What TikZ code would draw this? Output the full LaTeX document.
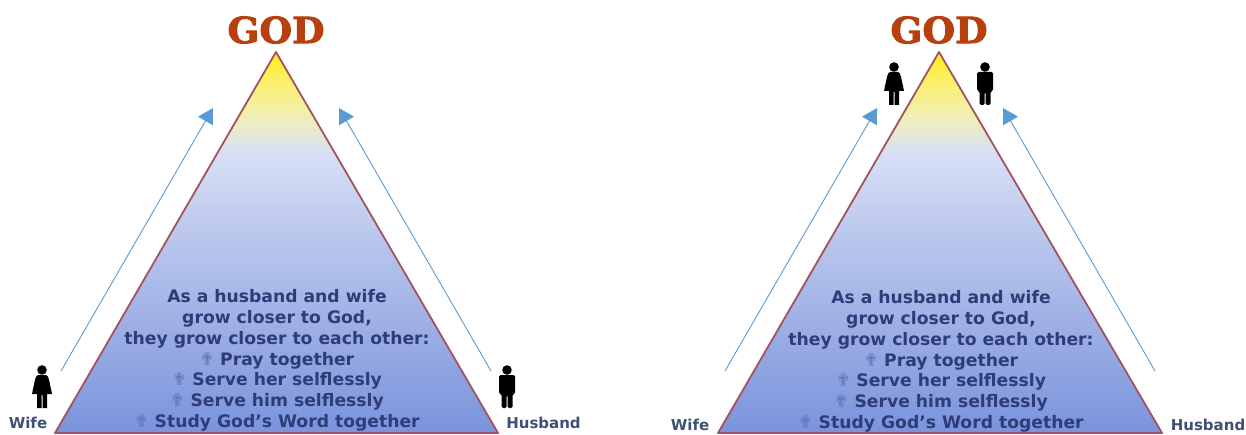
\documentclass[tikz,border=0pt]{standalone}
\usepackage{fontspec}
\setmainfont{DejaVu Sans}
\newfontfamily\godfont[FakeBold=2.5,FakeStretch=1.04]{DejaVu Serif}
\usetikzlibrary{arrows.meta}
\definecolor{rimcol}{HTML}{A3525F}
\definecolor{inkcol}{HTML}{2E3C78}
\definecolor{namecol}{HTML}{3F4F75}
\definecolor{crosscol}{HTML}{6478B8}
\definecolor{arrowcol}{HTML}{5B9BD5}
\definecolor{godcol}{HTML}{B8400F}
\definecolor{shadeA}{HTML}{7A93DC}
\definecolor{shadeB}{HTML}{B8C5EC}
\definecolor{shadeC}{HTML}{D8E0F5}
\definecolor{shadeD}{HTML}{EEEEBE}
\definecolor{shadeE}{HTML}{FAF06E}
\definecolor{shadeF}{HTML}{FFEE14}
\pgfdeclareverticalshading{pyramidfill}{100bp}{
  color(0bp)=(shadeA);
  color(25bp)=(shadeA);
  color(50bp)=(shadeB);
  color(62bp)=(shadeC);
  color(66bp)=(shadeD);
  color(71bp)=(shadeE);
  color(75bp)=(shadeF);
  color(100bp)=(shadeF)}
\tikzset{
  >=Triangle,
  pyramid/.style={shade,shading=pyramidfill,draw=rimcol,line width=1.8pt,line join=round},
  rise/.style={draw=arrowcol,line width=.9pt,-{Triangle[length=15pt,width=17pt]}},
  god/.style={font=\godfont\bfseries\fontsize{36}{36}\selectfont,text=godcol,inner sep=0pt},
  spouse/.style={font=\bfseries\fontsize{15}{15}\selectfont,text=namecol,inner sep=0pt},
  verse/.style={font=\bfseries\fontsize{17.2}{20.8}\selectfont,text=inkcol,align=center,inner sep=0pt},
  wife/.pic={
    \fill (0,-17) circle (4.8);
    \fill (-4,-12) -- (4,-12) .. controls (7,-11) and (7,-6) .. (9,2) -- (10,7) -- (5,7) -- (5,21) -- (.5,21) -- (.5,8) -- (-.5,8) -- (-.5,21) -- (-5,21) -- (-5,7) -- (-10,7) -- (-9,2) .. controls (-7,-6) and (-7,-11) .. (-4,-12) -- cycle;
  },
  husband/.pic={
    \fill (0,-17) circle (4.8);
    \fill[rounded corners=1.5pt] (-8,-12) -- (8,-12) -- (8,7) -- (5.5,7) -- (5.5,21) -- (.5,21) -- (.5,8) -- (-.5,8) -- (-.5,21) -- (-5.5,21) -- (-5.5,7) -- (-8,7) -- cycle;
  },
}
\newcommand{\bondtext}{As a husband and wife\\grow closer to God,\\they grow closer to each other:\\{\color{crosscol}✟} Pray together\\{\color{crosscol}✟} Serve her selflessly\\{\color{crosscol}✟} Serve him selflessly\\{\color{crosscol}✟} Study God's Word together}

\begin{document}
\begin{tikzpicture}[x=1pt,y=-1pt]
  \useasboundingbox (0,0) rectangle (1246,435);
  % left pyramid
  \coordinate (topL) at (276,52);
  \coordinate (wifeL) at (55,433);
  \coordinate (husbL) at (498,433);
  \path[pyramid] (topL) -- (husbL) -- (wifeL) -- cycle;
  \node[god] (godL) at (276,30) {GOD};
  \node[verse] (bondL) at (277,360.5) {\bondtext};
  \pic at (42,387) {wife};
  \pic at (507,387) {husband};
  \node[spouse] (nameWL) at (28,423) {Wife};
  \node[spouse] (nameHL) at (543.5,423) {Husband};
  \coordinate (startWL) at (61,371);
  \coordinate (endWL) at (213,108);
  \coordinate (startHL) at (491,371);
  \coordinate (endHL) at (339,108);
  \draw[rise] (startWL) -- (endWL);
  \draw[rise] (startHL) -- (endHL);
  % right pyramid
  \coordinate (topR) at (939,52);
  \coordinate (wifeR) at (718,433);
  \coordinate (husbR) at (1162,433);
  \path[pyramid] (topR) -- (husbR) -- (wifeR) -- cycle;
  \node[god] (godR) at (939,30) {GOD};
  \node[verse] (bondR) at (941,361.5) {\bondtext};
  \pic at (894,84) {wife};
  \pic at (985,84) {husband};
  \node[spouse] (nameWR) at (690,425) {Wife};
  \node[spouse] (nameHR) at (1208,425) {Husband};
  \coordinate (startWR) at (725,371);
  \coordinate (endWR) at (877,108);
  \coordinate (startHR) at (1155,371);
  \coordinate (endHR) at (1003,108);
  \draw[rise] (startWR) -- (endWR);
  \draw[rise] (startHR) -- (endHR);
\end{tikzpicture}
\end{document}
